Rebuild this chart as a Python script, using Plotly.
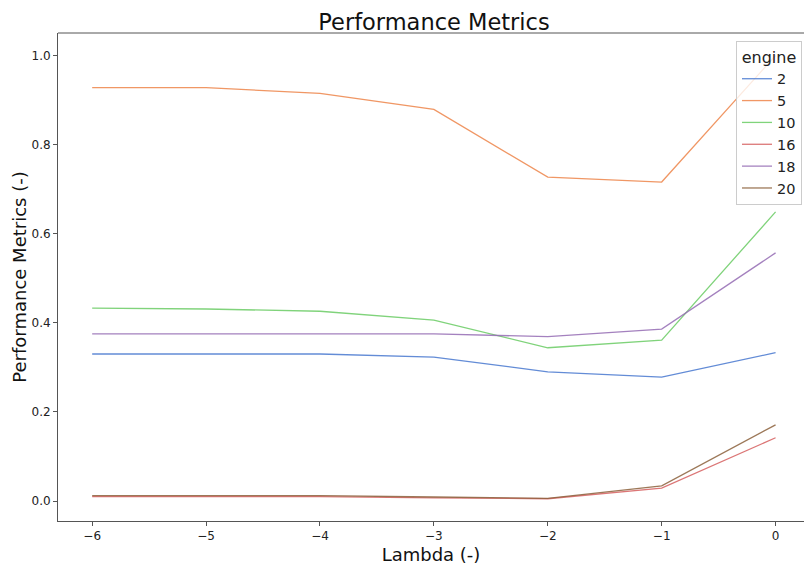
import plotly.graph_objects as go

lambdas = [-6, -5, -4, -3, -2, -1, 0]
engines = ["2", "5", "10", "16", "18", "20"]
engine_2 = [0.330, 0.330, 0.330, 0.323, 0.290, 0.278, 0.333]
engine_5 = [0.928, 0.928, 0.915, 0.879, 0.727, 0.716, 1.000]
engine_10 = [0.433, 0.431, 0.426, 0.406, 0.344, 0.361, 0.649]
engine_16 = [0.010, 0.010, 0.010, 0.007, 0.005, 0.029, 0.142]
engine_18 = [0.375, 0.375, 0.375, 0.375, 0.369, 0.386, 0.557]
engine_20 = [0.012, 0.012, 0.012, 0.009, 0.006, 0.034, 0.171]
series = [engine_2, engine_5, engine_10, engine_16, engine_18, engine_20]
colors = ["#4878d0", "#ee854a", "#6acc64", "#d65f5f", "#956cb4", "#8c613c"]

W, H = 804, 565
ml, mr, mt, mb = 58, 0, 33, 44
pw = W - ml - mr
ph = H - mt - mb
px_per_unit = 113.9
xmin = -6.3
xmax = xmin + pw / px_per_unit

fig = go.Figure()
for name, ys, c in zip(engines, series, colors):
    fig.add_trace(go.Scatter(x=lambdas, y=ys, mode="lines", name=name,
                             line=dict(color=c, width=1.3), opacity=0.85))

font = "DejaVu Sans, Verdana, sans-serif"
fig.update_layout(
    width=W, height=H,
    margin=dict(l=ml, r=mr, t=mt, b=mb),
    paper_bgcolor="white", plot_bgcolor="white",
    font=dict(family=font, color="#222222"),
    title=dict(text="Performance Metrics", x=(434 - ml) / pw, xref="paper", xanchor="center",
               y=1 - 22 / H, yref="container", yanchor="middle",
               font=dict(size=22.5, color="#111111")),
    legend=dict(
        title=dict(text="engine", side="top center", font=dict(size=16)),
        font=dict(size=14.5),
        x=(802 - ml) / pw, xanchor="right", y=(H - mb - 41) / ph, yanchor="top",
        bgcolor="rgba(255,255,255,0.8)", bordercolor="#cccccc", borderwidth=1,
        itemwidth=30, tracegroupgap=0,
    ),
    xaxis=dict(
        range=[xmin, xmax], tickvals=lambdas,
        ticktext=["\u22126", "\u22125", "\u22124", "\u22123", "\u22122", "\u22121", "0"],
        showgrid=False, zeroline=False, showline=True, linecolor="#555555", linewidth=1,
        ticks="outside", ticklen=4, tickcolor="#555555", tickfont=dict(size=12, color="#222222"),
        title=dict(text="Lambda (-)", font=dict(size=18, color="#111111"), standoff=6),
    ),
    yaxis=dict(
        range=[-0.0449, 1.0506], tickvals=[0, 0.2, 0.4, 0.6, 0.8, 1.0],
        ticktext=["0.0", "0.2", "0.4", "0.6", "0.8", "1.0"],
        showgrid=False, zeroline=False, showline=True, linecolor="#555555", linewidth=1,
        ticks="outside", ticklen=4, tickcolor="#555555", tickfont=dict(size=12, color="#222222"),
        title=dict(text="Performance Metrics (-)", font=dict(size=18, color="#111111"), standoff=0),
    ),
    shapes=[dict(type="line", xref="paper", yref="paper", x0=0, x1=1, y0=1, y1=1,
                 line=dict(color="#555555", width=1))],
)
fig.write_html("out.html", config={"displayModeBar": False},
               post_script="document.body.style.margin='0';document.body.style.overflow='hidden';")
